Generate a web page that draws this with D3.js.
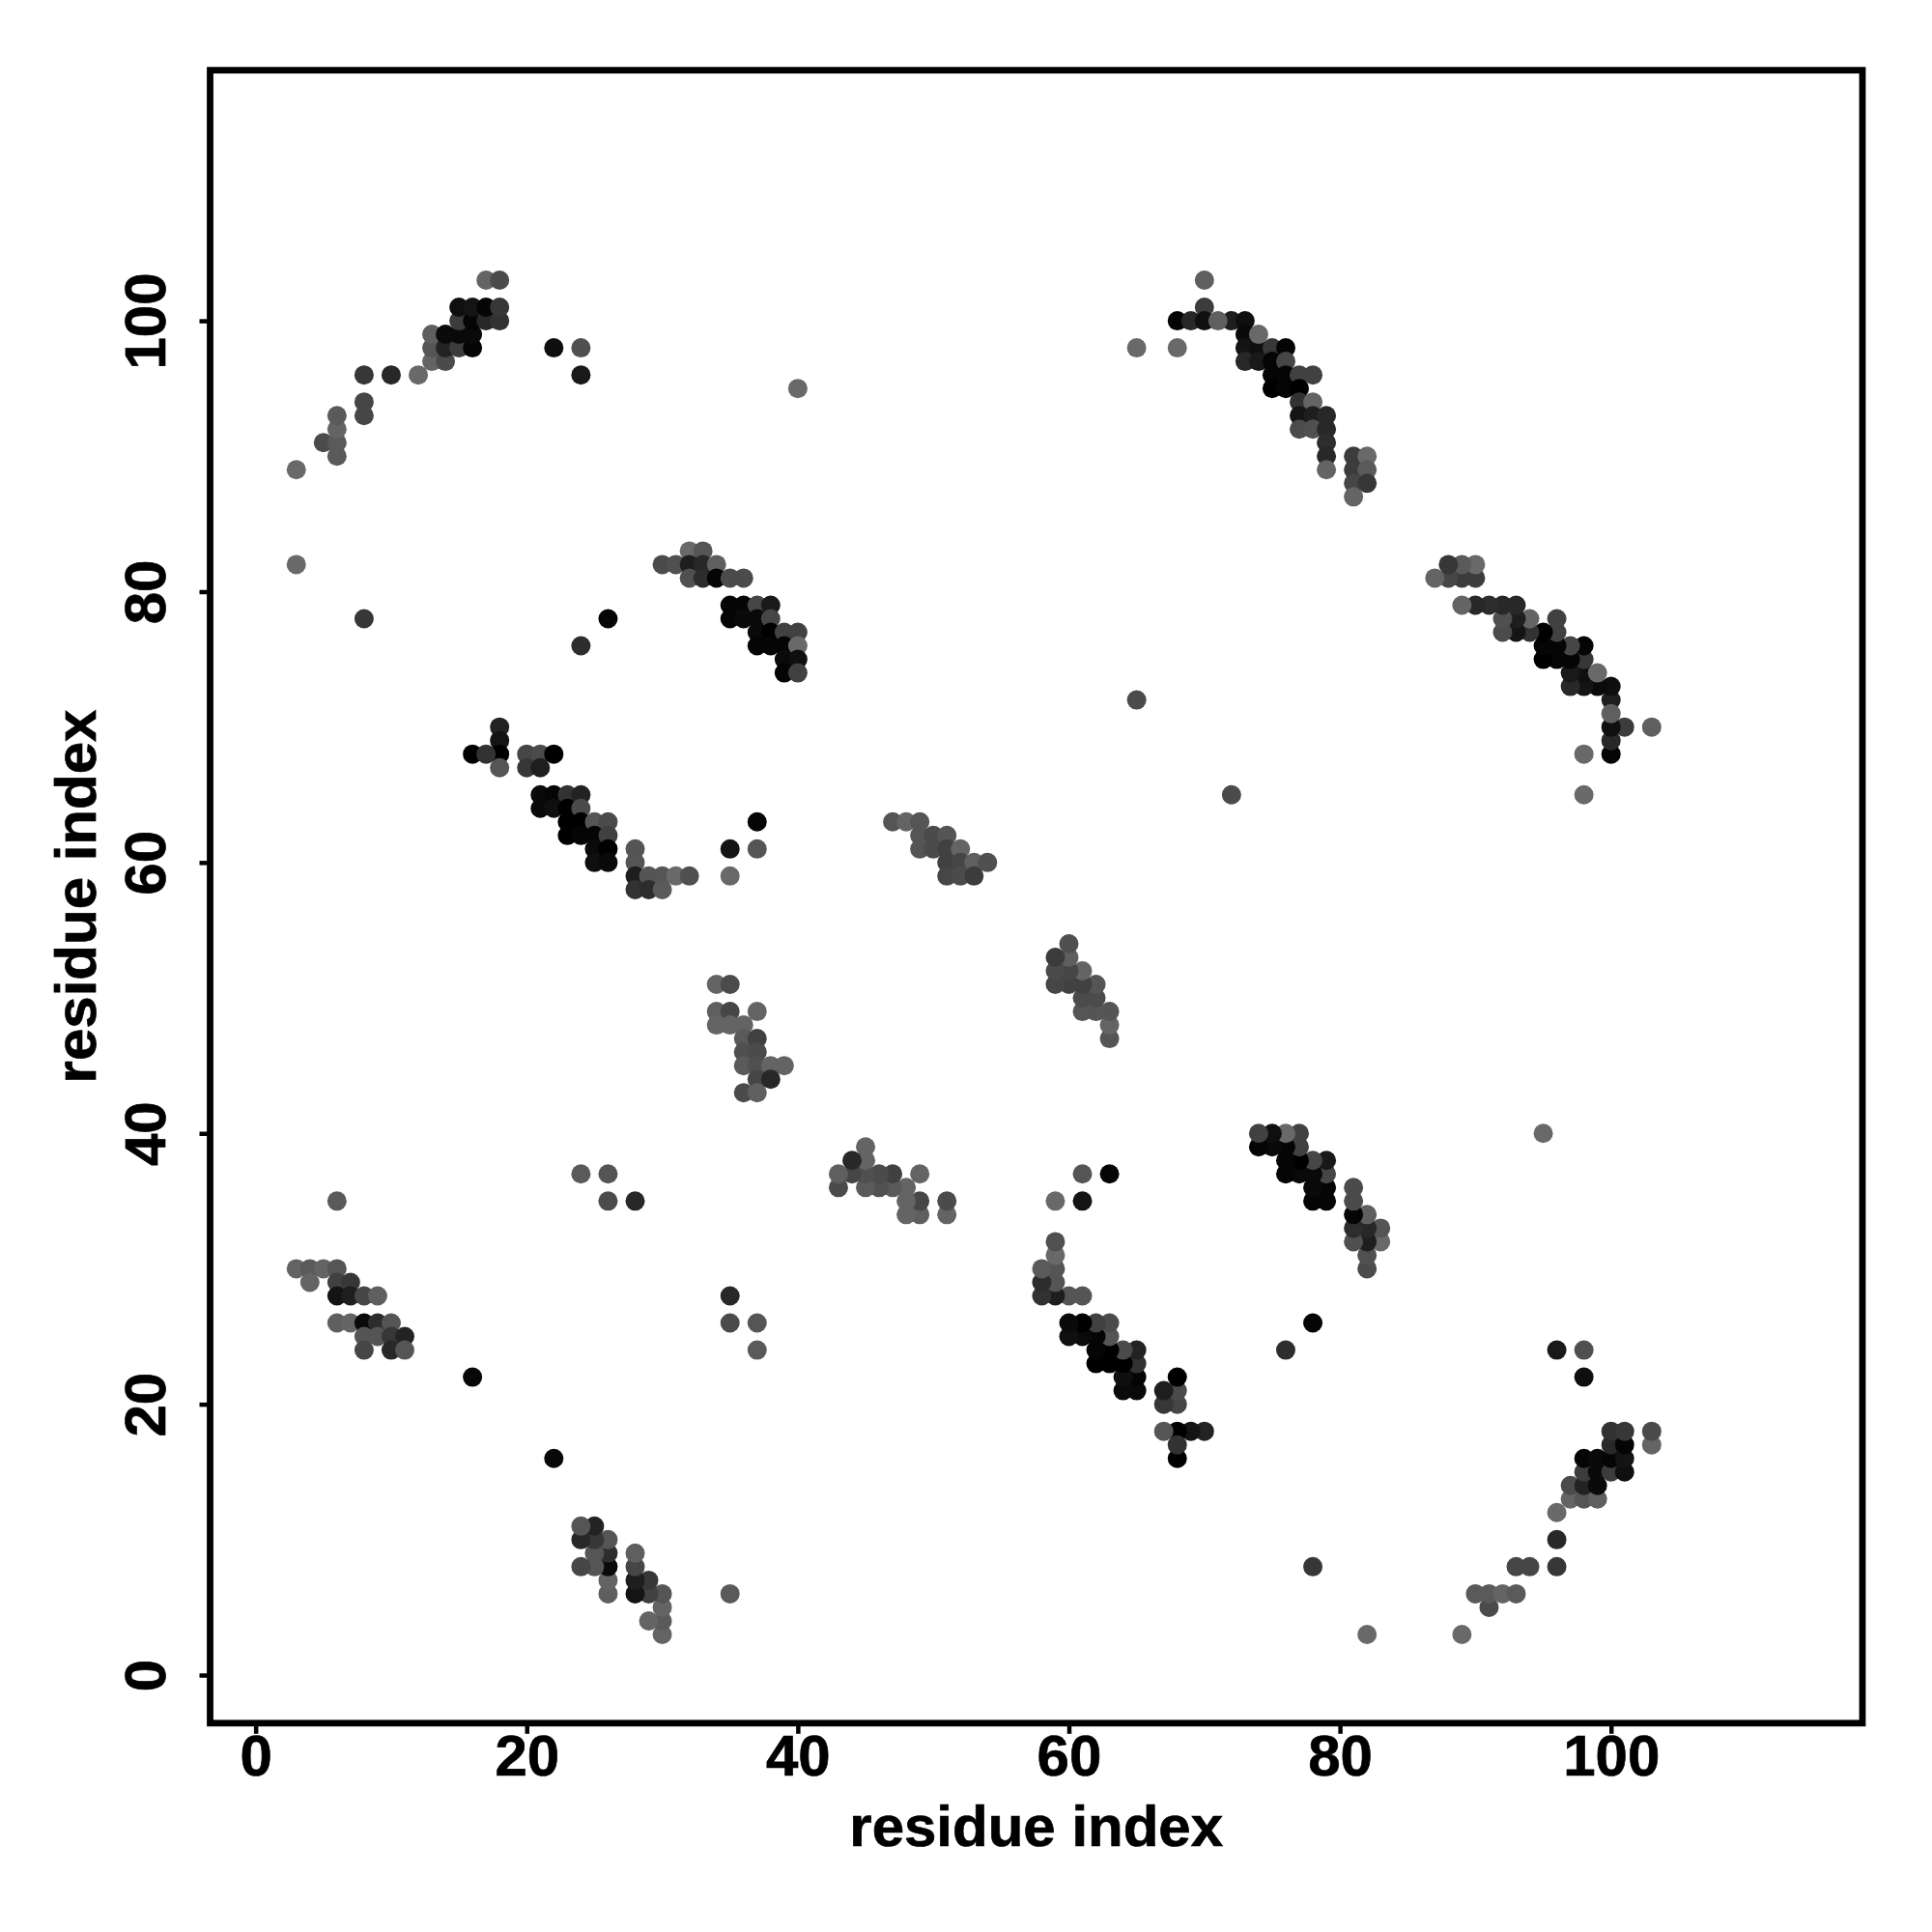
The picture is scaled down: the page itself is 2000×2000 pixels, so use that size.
<!DOCTYPE html>
<html><head><meta charset="utf-8">
<script src="https://cdn.jsdelivr.net/npm/d3@7/dist/d3.min.js"></script>
<style>html,body{margin:0;padding:0;background:#fff}svg{display:block}</style>
</head><body><svg id="c" width="2000" height="2000"></svg>
<script>
const xTicks = [0,20,40,60,80,100];
const yTicks = [0,20,40,60,80,100];
const axisTitle = "residue index";

// contact map: [residue i, residue j, grey level]; drawn in both triangles
const helixA = [[3,89,105],[5,91,75],[6,90,90],[6,91,90],[6,92,100],[6,93,90],[8,93,70],[8,94,70],[8,96,55],[10,96,40],[12,96,105],
 [13,97,100],[13,98,85],[13,99,95],[14,97,75],[14,98,35],[14,99,10],[15,98,60],[15,99,10],[15,100,60],[15,101,15],
 [16,98,5],[16,99,10],[16,100,5],[16,101,20],[17,100,40],[17,101,5],[17,103,100],[18,100,50],[18,101,55],[18,103,75]];
const helixB = [[32,83,105],[33,83,85],[30,82,75],[31,82,80],[32,82,30],[33,82,40],[34,82,95],[32,81,80],[33,81,45],[34,81,5],[35,81,75],[36,81,75],
 [35,79,5],[36,79,5],[37,79,70],[38,79,25],[35,78,5],[36,78,10],[37,78,10],[38,78,70],[37,77,10],[38,77,0],[39,77,65],[40,77,65],
 [37,76,5],[38,76,5],[39,76,5],[40,76,105],[39,75,10],[40,75,15],[39,74,5],[40,74,65]];
const helixC = [[18,70,35],[18,69,20],[18,68,0],[18,67,85],[16,68,0],[17,68,50],[20,68,70],[21,68,75],[22,68,0],[20,67,55],[21,67,30],
 [21,65,10],[22,65,5],[23,65,50],[24,65,35],[21,64,10],[22,64,15],[23,64,0],[24,64,75],[23,63,0],[24,63,0],[25,63,85],[26,63,75],
 [23,62,0],[24,62,5],[25,62,5],[26,62,65],[25,61,10],[26,61,0],[25,60,15],[26,60,10],
 [28,61,85],[28,60,85],[28,59,30],[29,59,85],[30,59,85],[31,59,105],[32,59,80],[28,58,50],[29,58,45],[30,58,90]];
const helixD = [[47,63,85],[48,63,100],[49,63,85],[49,62,85],[50,62,75],[51,62,85],[49,61,85],[50,61,75],[51,61,65],[52,61,100],
 [51,60,65],[52,60,70],[53,60,95],[54,60,80],[51,59,70],[52,59,75],[53,59,60]];
const helixE = [[34,51,100],[35,51,75],[34,49,95],[35,49,70],[37,49,100],[34,48,100],[35,48,100],[36,48,100],[36,47,90],[37,47,65],
 [36,46,80],[37,46,75],[36,45,90],[37,45,80],[38,45,100],[39,45,100],[37,44,70],[38,44,40],[36,43,75],[37,43,95]];
const helixG = [[3,30,100],[4,30,90],[5,30,100],[6,30,85],[4,29,100],[6,29,65],[7,29,55],[6,28,20],[7,28,30],[8,28,70],[9,28,95],
 [6,26,95],[7,26,100],[8,26,10],[9,26,45],[10,26,85],[8,25,85],[9,25,85],[10,25,55],[11,25,35],[8,24,70],[10,24,40],[11,24,85]];
const helixI = [[70,103,95],[70,101,60],[68,100,5],[69,100,40],[70,100,15],[72,100,30],[73,100,15],[71,100,95],
 [73,99,10],[73,98,20],[74,98,15],[75,98,55],[76,98,5],[73,97,40],[74,97,25],[75,97,5],[76,97,70],[74,99,105],
 [75,96,5],[76,96,5],[77,96,65],[78,96,65],[75,95,0],[76,95,5],[77,95,0],[77,94,50],[78,94,100],
 [77,93,20],[78,93,30],[79,93,40],[77,92,75],[78,92,80],[79,92,40],[79,91,45],[79,90,40],[79,89,100],
 [81,90,60],[82,90,105],[81,89,60],[82,89,90],[81,88,70],[82,88,55],[81,87,100]];
const isolated = [[3,82,105],[8,78,55],[24,76,45],[26,78,5],[22,98,15],[24,98,80],[24,96,25],[40,95,105],
 [35,61,20],[37,61,85],[37,63,5],[35,59,105],[6,35,90],[24,37,90],[26,37,85],[26,35,75],[28,35,40],[16,22,8],
 [65,98,105],[68,98,105],[65,72,75]];

const contacts = [].concat(helixA,helixB,helixC,helixD,helixE,helixG,helixI,isolated);

const svg = d3.select("#c");
const x = d3.scaleLinear().domain([-3.36,118.55]).range([217.5,1928]);
const y = d3.scaleLinear().domain([-3.55,118.5]).range([1783.8,72.7]);

const points = [];
contacts.forEach(([i,j,g])=>{points.push({x:i,y:j,g});});
contacts.forEach(([i,j,g])=>{points.push({x:j,y:i,g});});

svg.append("g").selectAll("circle").data(points).join("circle")
  .attr("cx",d=>x(d.x)).attr("cy",d=>y(d.y)).attr("r",10)
  .attr("fill",d=>d3.rgb(d.g,d.g,d.g));

const font = "'Liberation Sans', Arial, sans-serif";
const heavy = s=>s.attr("font-family",font).attr("font-weight","bold").attr("font-size",60)
  .attr("fill","#000").attr("stroke","#000").attr("stroke-width",0.7);

const ax = svg.append("g").attr("transform","translate(0,1783.8)")
  .call(d3.axisBottom(x).tickValues(xTicks).tickSize(11).tickPadding(0));
ax.select(".domain").remove();
ax.selectAll("line").attr("stroke","#000").attr("stroke-width",4.5);
ax.selectAll("text").attr("y",54.5).attr("dy",null).call(heavy);

const ay = svg.append("g").attr("transform","translate(217.5,0)")
  .call(d3.axisLeft(y).tickValues(yTicks).tickSize(11).tickPadding(0));
ay.select(".domain").remove();
ay.selectAll("line").attr("stroke","#000").attr("stroke-width",4.5);
ay.selectAll("text")
  .attr("x",null).attr("y",null).attr("dy",null)
  .attr("transform","translate(-46.5,0) rotate(-90)")
  .attr("text-anchor","middle").call(heavy);

svg.append("rect").attr("x",217.5).attr("y",72.7).attr("width",1928-217.5).attr("height",1783.8-72.7)
  .attr("fill","none").attr("stroke","#000").attr("stroke-width",6.8);

svg.append("text").attr("x",1072.7).attr("y",1910.5).attr("text-anchor","middle").call(heavy).text(axisTitle);
svg.append("text").attr("transform","translate(99,928) rotate(-90)").attr("text-anchor","middle").call(heavy).text(axisTitle);
</script></body></html>
